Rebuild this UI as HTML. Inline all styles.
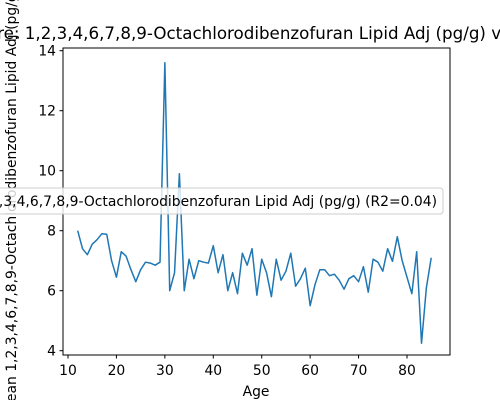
<!DOCTYPE html>
<html><head><meta charset="utf-8"><style>
body{margin:0;background:#fff}
svg{display:block;font-family:"DejaVu Sans","Liberation Sans",sans-serif}
</style></head><body>
<svg id="c" width="500" height="400" viewBox="0 0 500 400">
<rect width="500" height="400" fill="#fff"/>
<text x="242" y="39" font-size="16.7" text-anchor="middle">Exposure: 1,2,3,4,6,7,8,9-Octachlorodibenzofuran Lipid Adj (pg/g) vs Age</text>
<text transform="translate(16,201) rotate(-90)" font-size="13.9" text-anchor="middle">Mean 1,2,3,4,6,7,8,9-Octachlorodibenzofuran Lipid Adj (pg/g)</text>
<text x="256" y="396" font-size="13.9" text-anchor="middle">Age</text>
<g id="ticks"></g>
<polyline id="line" fill="none" stroke="#1f77b4" stroke-width="1.5" stroke-linejoin="round"/>
<rect x="63" y="48" width="387" height="307" fill="none" stroke="#000" stroke-width="1"/>
<rect x="-40" y="188" width="483" height="26" rx="3" fill="#fff" fill-opacity="0.8" stroke="#ccc"/>
<text x="437" y="206" font-size="13.9" text-anchor="end">Mean 1,2,3,4,6,7,8,9-Octachlorodibenzofuran Lipid Adj (pg/g) (R2=0.04)</text>
</svg>
<script>
const ages=[12,13,14,15,16,17,18,19,20,21,22,23,24,25,26,27,28,29,30,31,32,33,34,35,36,37,38,39,40,41,42,43,44,45,46,47,48,49,50,51,52,53,54,55,56,57,58,59,60,61,62,63,64,65,66,67,68,69,70,71,72,73,74,75,76,77,78,79,80,81,82,83,84,85];
const values=[8.0,7.4,7.2,7.55,7.7,7.9,7.88,7.0,6.45,7.3,7.15,6.7,6.3,6.7,6.95,6.92,6.85,6.95,13.6,6.0,6.6,9.9,6.0,7.05,6.4,7.0,6.95,6.92,7.5,6.6,7.2,6.0,6.6,5.9,7.25,6.85,7.4,5.85,7.05,6.6,5.8,7.05,6.35,6.65,7.25,6.15,6.4,6.75,5.5,6.2,6.7,6.7,6.5,6.55,6.35,6.05,6.4,6.5,6.3,6.8,5.95,7.05,6.95,6.65,7.4,6.98,7.8,7.0,6.45,5.9,7.3,4.25,6.1,7.1];
const xTicks=[10,20,30,40,50,60,70,80];
const yTicks=[4,6,8,10,12,14];
const xs=v=>68+(v-10)*(407-68)/70;
const ys=v=>350.7-(v-4)*30;
const NS="http://www.w3.org/2000/svg";
const g=document.getElementById('ticks');
xTicks.forEach(t=>{
 const l=document.createElementNS(NS,'line');
 l.setAttribute('x1',xs(t));l.setAttribute('x2',xs(t));l.setAttribute('y1',355);l.setAttribute('y2',358.5);l.setAttribute('stroke','#000');
 
 
 g.appendChild(l);
 const tx=document.createElementNS(NS,'text');
 tx.setAttribute('x',xs(t));tx.setAttribute('y',375);tx.setAttribute('font-size','13.9');tx.setAttribute('text-anchor','middle');tx.textContent=t;
 
 
 g.appendChild(tx);
});
yTicks.forEach(t=>{
 const l=document.createElementNS(NS,'line');
 l.setAttribute('x1',59.5);l.setAttribute('x2',63);l.setAttribute('y1',ys(t));l.setAttribute('y2',ys(t));l.setAttribute('stroke','#000');
 
 
 g.appendChild(l);
 const tx=document.createElementNS(NS,'text');
 tx.setAttribute('x',56);tx.setAttribute('y',ys(t)+5);tx.setAttribute('font-size','13.9');tx.setAttribute('text-anchor','end');tx.textContent=t;
 
 
 g.appendChild(tx);
});
document.getElementById('line').setAttribute('points',ages.map((a,i)=>xs(a)+','+ys(values[i])).join(' '));
</script>
</body></html>
